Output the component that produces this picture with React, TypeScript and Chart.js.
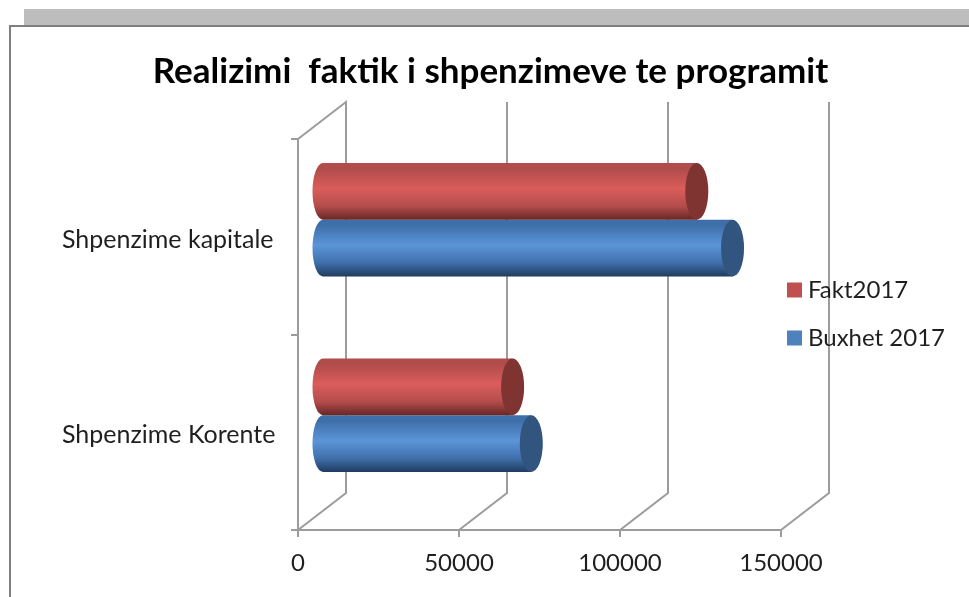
import React, { useEffect, useRef } from "react";
import { Chart, registerables } from "chart.js";

Chart.register(...registerables);

const categories = ["Shpenzime kapitale", "Shpenzime Korente"];
const fakt2017 = [116400, 59200];
const buxhet2017 = [127500, 65000];
const xTicksMax = 150000;
const xTickStep = 50000;
const titleText = "Realizimi  faktik i shpenzimeve te programit";

const FONT = "Lato, Carlito, sans-serif";
const DEPTH_X = 48;
const DEPTH_Y = -37;
const BAR_SHIFT_Y = 1.5;
const GRID = "#9c9c9c";

const styles: Record<string, { light: string; top: string; mid: string; bottom: string; cap: string }> = {
  Fakt2017: { light: "#da5d5b", top: "#b04c4a", mid: "#b34d4b", bottom: "#672725", cap: "#7f3432" },
  "Buxhet 2017": { light: "#5b95d9", top: "#3f6fa9", mid: "#3f70aa", bottom: "#203b60", cap: "#31557f" },
};

const scene3d = {
  id: "scene3d",
  afterLayout(chart: any) {
    const { legend, titleBlock } = chart;
    if (titleBlock) {
      titleBlock.left = 12;
      titleBlock.right = 969;
    }
    if (legend) {
      legend.left = 769;
      legend.right = 969;
      legend.top = 254;
      legend.bottom = 597;
    }
  },
  beforeDraw(chart: any) {
    const { ctx, chartArea, scales } = chart;
    const w = chart.width;
    const h = chart.height;
    ctx.save();
    ctx.fillStyle = "#ffffff";
    ctx.fillRect(0, 0, w, h);
    ctx.fillStyle = "#bdbdbd";
    ctx.fillRect(24, 9, w - 24, 16);
    ctx.fillStyle = "#7f7f7f";
    ctx.fillRect(9, 25, w - 9, 2);
    ctx.fillRect(9, 25, 2, h - 25);

    ctx.strokeStyle = GRID;
    ctx.lineWidth = 2;
    for (const t of scales.x.ticks) {
      const x = scales.x.getPixelForValue(t.value);
      ctx.beginPath();
      ctx.moveTo(x, chartArea.bottom);
      ctx.lineTo(x + DEPTH_X, chartArea.bottom + DEPTH_Y);
      ctx.lineTo(x + DEPTH_X, chartArea.top + DEPTH_Y);
      if (t.value === 0) ctx.lineTo(x, chartArea.top);
      ctx.stroke();
    }
    ctx.restore();
  },
  beforeDatasetDraw(chart: any, args: any) {
    const { ctx } = chart;
    const style = styles[chart.data.datasets[args.index].label];
    for (const bar of args.meta.data) {
      const p = bar.getProps(["x", "y", "base", "height"], true);
      const half = p.height / 2;
      const x0 = p.base + DEPTH_X / 2;
      const x1 = p.x + DEPTH_X / 2;
      const cy = p.y + DEPTH_Y / 2 + BAR_SHIFT_Y;
      const g = ctx.createLinearGradient(0, cy - half, 0, cy + half);
      g.addColorStop(0, style.top);
      g.addColorStop(0.1, style.top);
      g.addColorStop(0.45, style.light);
      g.addColorStop(0.76, style.mid);
      g.addColorStop(1, style.bottom);
      ctx.save();
      ctx.fillStyle = g;
      ctx.beginPath();
      ctx.ellipse(x0, cy, 10.5, half, 0, Math.PI / 2, (Math.PI * 3) / 2);
      ctx.lineTo(x1, cy - half);
      ctx.lineTo(x1, cy + half);
      ctx.closePath();
      ctx.fill();
      ctx.fillStyle = style.cap;
      ctx.beginPath();
      ctx.ellipse(x1, cy, 11.5, half, 0, 0, Math.PI * 2);
      ctx.fill();
      ctx.restore();
    }
    return false;
  },
};

export default function App() {
  const ref = useRef<HTMLCanvasElement | null>(null);
  useEffect(() => {
    const canvas = ref.current!;
    const chart = new Chart(canvas, {
      type: "bar",
      plugins: [scene3d],
      data: {
        labels: categories,
        datasets: [
          { label: "Fakt2017", data: fakt2017, backgroundColor: "#c0504d", borderWidth: 0, categoryPercentage: 0.58, barPercentage: 1 },
          { label: "Buxhet 2017", data: buxhet2017, backgroundColor: "#4f81bd", borderWidth: 0, categoryPercentage: 0.58, barPercentage: 1 },
        ],
      },
      options: {
        indexAxis: "y",
        responsive: false,
        animation: false,
        layout: { padding: { left: 62, right: 188, top: 0, bottom: 0 } },
        plugins: {
          tooltip: { enabled: false },
          title: {
            display: true,
            text: titleText,
            color: "#000000",
            font: { family: FONT, size: 35, weight: "bold", lineHeight: 1.2 },
            padding: { top: 51, bottom: 46 },
          },
          legend: {
            position: "chartArea",
            align: "start",
            labels: {
              color: "#1f1f1f",
              usePointStyle: true,
              pointStyle: "rect",
              boxWidth: 3,
              boxHeight: 15,
              padding: 24,
              font: { family: FONT, size: 24 },
            },
          },
        },
        scales: {
          x: {
            type: "linear",
            min: 0,
            max: xTicksMax,
            ticks: {
              stepSize: xTickStep,
              maxRotation: 0,
              autoSkip: false,
              color: "#1f1f1f",
              padding: 12,
              font: { family: FONT, size: 24 },
              callback: (v: number) => String(v),
            },
            grid: { drawOnChartArea: false, drawTicks: true, tickLength: 7, tickColor: GRID, lineWidth: 2 },
            border: { color: GRID, width: 2 },
            afterFit(scale: any) {
              scale.height = 67;
            },
          },
          y: {
            type: "category",
            ticks: {
              crossAlign: "far",
              color: "#1f1f1f",
              labelOffset: 3,
              font: { family: FONT, size: 25 },
            },
            grid: { offset: true, drawOnChartArea: false, drawTicks: true, tickLength: 7, tickColor: GRID, lineWidth: 2 },
            border: { color: GRID, width: 2 },
            afterFit(scale: any) {
              scale.width = 236;
            },
          },
        },
      },
    } as any);
    return () => chart.destroy();
  }, []);
  return (
    <div style={{ position: "fixed", left: 0, top: 0, width: 969, height: 597, background: "#fff" }}>
      <canvas ref={ref} width={969} height={597} style={{ display: "block", width: 969, height: 597, filter: "blur(0.45px)" }} />
    </div>
  );
}
